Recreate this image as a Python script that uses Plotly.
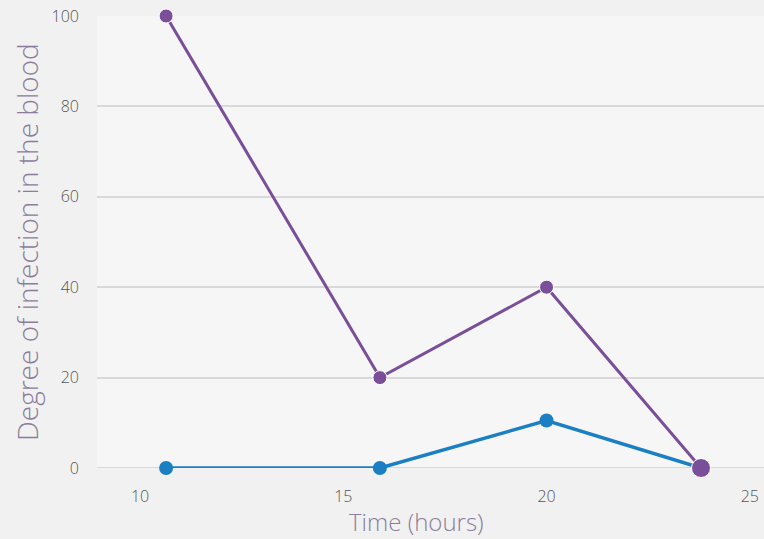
import plotly.graph_objects as go

time_hours = [10.64, 15.9, 20.0, 23.8]
purple_series = [100, 20, 40, 0]
blue_series = [0, 0, 10.5, 0]
x_ticks = [10, 15, 20, 25]
y_ticks = [0, 20, 40, 60, 80, 100]

FONT = "Open Sans"
fig = go.Figure()
fig.add_trace(go.Scatter(
    x=time_hours, y=blue_series, mode="lines+markers",
    line=dict(color="#1b7fc4", width=3.5),
    marker=dict(color="#1b7fc4", size=14, opacity=1),
    cliponaxis=False, showlegend=False))
fig.add_trace(go.Scatter(
    x=time_hours, y=purple_series, mode="lines+markers",
    line=dict(color="#7a4f9a", width=3),
    marker=dict(color="#7a4f9a", size=[14, 14, 14, 19], opacity=1),
    cliponaxis=False, showlegend=False))

fig.update_layout(
    width=764, height=539,
    margin=dict(l=97, r=0, t=16, b=71),
    paper_bgcolor="#f1f1f1", plot_bgcolor="#f6f6f6",
    font=dict(family=FONT, color="#555555", weight=300),
    xaxis=dict(range=[8.94, 25.35], tickvals=x_ticks, showgrid=False, zeroline=False,
               ticks="", tickfont=dict(family=FONT, size=16, color="#555555", weight=300),
               ticklabelstandoff=17),
    yaxis=dict(range=[0, 100], tickvals=y_ticks, showgrid=True, gridcolor="#d9d9d9", gridwidth=2,
               zeroline=False, ticks="", tickfont=dict(family=FONT, size=16, color="#555555", weight=300),
               ticklabelstandoff=17),
)
fig.add_annotation(text="Time (hours)", xref="paper", yref="paper", x=(416 - 97) / 667, y=-(521 - 468) / 452,
                   showarrow=False, xanchor="center", yanchor="middle",
                   font=dict(family=FONT, size=24, color="#8c7d9c", weight=300))
fig.add_annotation(text="Degree of infection in the blood", xref="paper", yref="paper",
                   x=-(97 - 27) / 667, y=(468 - 242) / 452, textangle=-90, showarrow=False,
                   xanchor="center", yanchor="middle",
                   font=dict(family=FONT, size=28, color="#8c7d9c", weight=300))
fig.add_shape(type="line", xref="paper", yref="y", x0=0, x1=1, y0=0, y1=0,
              line=dict(color="#d9d9d9", width=2), layer="below")
fig.write_html("out.html", config={"displayModeBar": False},
               post_script="document.body.style.margin='0';document.body.style.background='#f1f1f1';")
